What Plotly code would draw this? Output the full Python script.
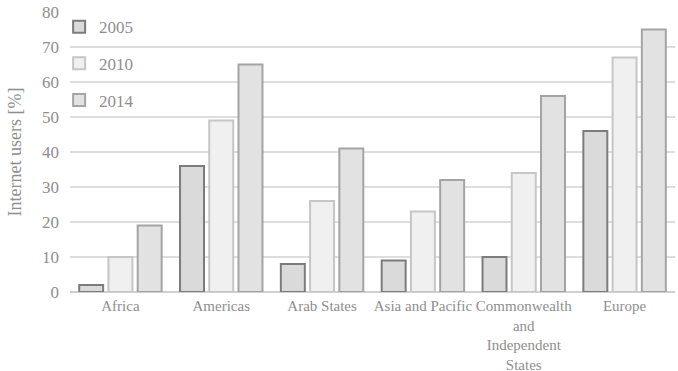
import plotly.graph_objects as go

regions = ["Africa", "Americas", "Arab States", "Asia and Pacific",
           "Commonwealth<br>and<br>Independent<br>States", "Europe"]
years = ["2005", "2010", "2014"]
users_2005 = [2, 36, 8, 9, 10, 46]
users_2010 = [10, 49, 26, 23, 34, 67]
users_2014 = [19, 65, 41, 32, 56, 75]
y_ticks = [0, 10, 20, 30, 40, 50, 60, 70, 80]

series = [users_2005, users_2010, users_2014]
fills = ["#dadada", "#f0f0f0", "#e2e2e2"]
edges = ["#7c7c7c", "#c6c6c6", "#a4a4a4"]

fig = go.Figure()
for i, (yr, vals) in enumerate(zip(years, series)):
    fig.add_trace(go.Bar(
        x=regions, y=vals, name=yr, legendgroup=yr,
        marker=dict(color=fills[i], line=dict(color=edges[i], width=2)),
    ))

serif = "Liberation Serif, Times New Roman, serif"
grey = "#8e8e8e"
fig.update_layout(
    width=678, height=371,
    margin=dict(l=70, r=3, t=12, b=79),
    paper_bgcolor="white", plot_bgcolor="white",
    font=dict(family=serif, color=grey),
    barmode="group", bargap=0.13, bargroupgap=0.18,
    showlegend=True,
    legend=dict(x=-0.018, y=1.01, xanchor="left", yanchor="top",
                font=dict(size=17, color=grey),
                bgcolor="rgba(0,0,0,0)", tracegroupgap=11.5,
                traceorder="grouped", itemwidth=30),
    xaxis=dict(tickfont=dict(size=15, color=grey), showgrid=False,
               showline=False, ticks="", automargin=False,
               ticklabelstandoff=3),
    yaxis=dict(range=[0, 80], tickvals=y_ticks, tickfont=dict(size=17),
               gridcolor="#dddddd", gridwidth=2, zeroline=True,
               zerolinecolor="#d0d0d0", zerolinewidth=2, ticklabelstandoff=10,
               title=dict(text="Internet users [%]", font=dict(size=18),
                          standoff=15)),
)

fig.write_html("out.html")
